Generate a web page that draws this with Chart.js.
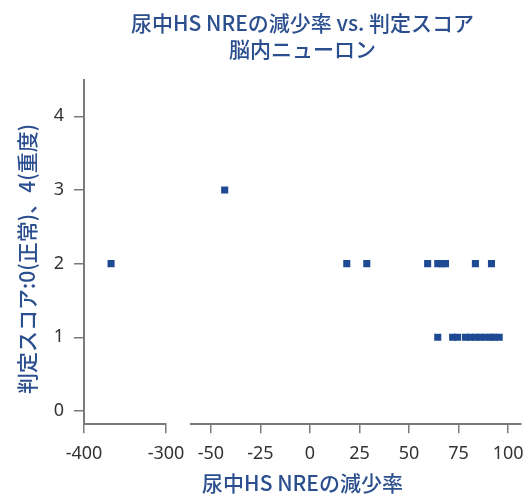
<!DOCTYPE html>
<html>
<head>
<meta charset="utf-8">
<script src="https://cdn.jsdelivr.net/npm/chart.js@4.4.0/dist/chart.umd.min.js"></script>
<style>
  body { margin: 0; background: #fff; }
  #wrap { width: 532px; height: 497px; }
</style>
</head>
<body>
<div id="wrap"><canvas id="scoreChart"></canvas></div>
<script>
// left segment of the broken x axis (-400 .. -300)
const leftX = [-367];
const leftY = [2];

// right segment (-60 .. 106)
const rightX = [-43, 18.6, 28.7, 59.4, 64.5, 66.5, 68.4, 83.5, 91.6,
                64.5, 72, 74.5, 78.5, 81, 83.5, 86, 88.5, 91, 93, 95.5];
const rightY = [3, 2, 2, 2, 2, 2, 2, 2, 2,
                1, 1, 1, 1, 1, 1, 1, 1, 1, 1, 1];

const yTicks = [0, 1, 2, 3, 4];
const xTicksLeft = [-400, -300];
const xTicksRight = [-50, -25, 0, 25, 50, 75, 100];

const blue = '#1e4a93';
const titleBlue = '#2b4f8e';
const axisGray = '#7a7a7a';
const tickFont = { family: 'Noto Sans', size: 18 };
const titleFont = { family: 'Noto Sans CJK JP', size: 21, weight: '500', lineHeight: 1.25 };

const toPoints = (xs, ys) => xs.map((x, i) => ({ x: x, y: ys[i] }));

const xGrid = {
    display: true,
    drawOnChartArea: false,
    drawTicks: true,
    tickLength: 9,
    color: axisGray,
    lineWidth: 1.5
};
const noSidePadding = (s) => { s.paddingLeft = 0; s.paddingRight = 0; };

const ctx = document.getElementById('scoreChart');
new Chart(ctx, {
    type: 'scatter',
    data: {
        datasets: [{
            data: toPoints(leftX, leftY),
            xAxisID: 'xl',
            yAxisID: 'y',
            backgroundColor: blue,
            borderColor: blue,
            pointStyle: 'rect',
            pointRadius: 5,
            borderWidth: 0
        }, {
            data: toPoints(rightX, rightY),
            xAxisID: 'xr',
            yAxisID: 'y',
            backgroundColor: blue,
            borderColor: blue,
            pointStyle: 'rect',
            pointRadius: 5,
            borderWidth: 0
        }]
    },
    options: {
        responsive: true,
        maintainAspectRatio: false,
        animation: false,
        layout: { padding: { top: 10, right: 11, bottom: 0, left: 0 } },
        plugins: {
            legend: { display: false },
            tooltip: { enabled: false },
            title: {
                display: true,
                text: ['尿中HS NREの減少率 vs. 判定スコア', '脳内ニューロン'],
                fullSize: false,
                color: titleBlue,
                font: titleFont,
                padding: { top: 0, bottom: 17 }
            },
            subtitle: {
                display: true,
                position: 'bottom',
                text: '尿中HS NREの減少率',
                fullSize: false,
                color: titleBlue,
                font: titleFont,
                padding: { top: -5, bottom: 1 }
            }
        },
        scales: {
            y: {
                type: 'linear',
                position: 'left',
                min: -0.18,
                max: 4.5,
                afterBuildTicks: (s) => { s.ticks = yTicks.map((v) => ({ value: v })); },
                afterFit: (s) => { s.width = 84; },
                ticks: { color: '#333', font: tickFont, padding: 10 },
                grid: {
                    display: true,
                    drawOnChartArea: false,
                    drawTicks: true,
                    tickLength: 10,
                    color: axisGray,
                    lineWidth: 1.5
                },
                border: { display: true, color: axisGray, width: 2 },
                title: {
                    display: true,
                    text: '判定スコア:0(正常)、4(重度)   ',
                    color: titleBlue,
                    font: titleFont,
                    padding: { top: 14, bottom: 0 }
                }
            },
            xl: {
                type: 'linear',
                position: 'bottom',
                stack: 'x',
                stackWeight: 82,
                min: -400,
                max: -300,
                afterBuildTicks: (s) => { s.ticks = xTicksLeft.map((v) => ({ value: v })); },
                afterFit: noSidePadding,
                ticks: { color: '#333', font: tickFont, padding: 10, maxRotation: 0, autoSkip: false },
                grid: xGrid,
                border: { display: true, color: axisGray, width: 2 }
            },
            xgap: {
                type: 'linear',
                position: 'bottom',
                stack: 'x',
                stackWeight: 25,
                min: 0,
                max: 1,
                ticks: { display: false },
                grid: { display: false },
                border: { display: false }
            },
            xr: {
                type: 'linear',
                position: 'bottom',
                stack: 'x',
                stackWeight: 330,
                min: -60,
                max: 106.5,
                afterBuildTicks: (s) => { s.ticks = xTicksRight.map((v) => ({ value: v })); },
                afterFit: noSidePadding,
                ticks: { color: '#333', font: tickFont, padding: 10, maxRotation: 0, autoSkip: false },
                grid: xGrid,
                border: { display: true, color: axisGray, width: 2 }
            }
        }
    }
});
</script>
</body>
</html>
